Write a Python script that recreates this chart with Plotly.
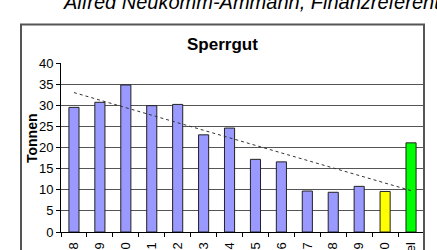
import plotly.graph_objects as go

categories = ["1998", "1999", "2000", "2001", "2002", "2003", "2004",
              "2005", "2006", "2007", "2008", "2009", "2010", "Ziel"]
tonnen = [29.5, 30.7, 34.8, 29.9, 30.2, 23.0, 24.6,
          17.2, 16.6, 9.7, 9.4, 10.8, 9.6, 21.1]
bar_colors = ["#9999FF"] * 12 + ["#FFFF00", "#00FF00"]
trend_x = ["1998", "Ziel"]
trend_y = [33.0, 9.8]
y_ticks = [0, 5, 10, 15, 20, 25, 30, 35, 40]

W, H = 437, 250
L, R, T, B = 61, 13, 63, 18
pw, ph = W - L - R, H - T - B

def px(x):
    return (x - L) / pw

def py(y):
    return (H - B - y) / ph

FONT = "Liberation Sans, Arial, sans-serif"

fig = go.Figure()
fig.add_trace(go.Bar(
    x=categories, y=tonnen,
    marker=dict(color=bar_colors, line=dict(color="#222222", width=1)),
    showlegend=False, hoverinfo="skip",
))
fig.add_trace(go.Scatter(
    x=trend_x, y=trend_y, mode="lines",
    line=dict(color="#333333", width=1, dash="dot"),
    showlegend=False, hoverinfo="skip",
))

fig.update_layout(
    template="none",
    width=W, height=H,
    margin=dict(l=L, r=R, t=T, b=B, autoexpand=False),
    paper_bgcolor="white", plot_bgcolor="white",
    bargap=0.61,
    font=dict(family=FONT, size=13, color="black"),
    xaxis=dict(
        type="category", tickangle=-90, ticks="outside", ticklen=4,
        tickson="boundaries", tickcolor="black", showline=True,
        linecolor="black", linewidth=1, showgrid=False, automargin=False,
        tickfont=dict(size=13), ticklabelstandoff=4,
    ),
    yaxis=dict(
        range=[0, 40], tickvals=y_ticks, ticks="outside", ticklen=4,
        tickcolor="black", showline=True, linecolor="black", linewidth=1,
        showgrid=True, gridcolor="#555555", gridwidth=1, zeroline=False,
        automargin=False, tickfont=dict(size=13),
    ),
    shapes=[dict(
        type="rect", xref="paper", yref="paper",
        x0=px(21), x1=px(424), y0=py(262), y1=py(24.5),
        line=dict(color="#555555", width=2), fillcolor="rgba(0,0,0,0)",
        layer="above",
    )],
    annotations=[
        dict(text="Alfred Neukomm-Ammann, Finanzreferent", xref="paper",
             yref="paper", x=px(61), y=py(15.5), xanchor="left",
             yanchor="bottom", showarrow=False,
             font=dict(family=FONT, size=20, style="italic", color="black")),
        dict(text="<b>Sperrgut</b>", xref="paper", yref="paper",
             x=px(222), y=py(44), xanchor="center", yanchor="middle",
             showarrow=False, font=dict(family=FONT, size=17, color="black")),
        dict(text="<b>Tonnen</b>", xref="paper", yref="paper",
             x=px(32), y=py(138), xanchor="center", yanchor="middle",
             textangle=-90, showarrow=False,
             font=dict(family=FONT, size=14, color="black")),
    ],
)

fig.write_html("out.html",
               config={"displayModeBar": False, "staticPlot": True},
               post_script="document.body.style.margin='0';"
                           "document.body.style.overflow='hidden';")
